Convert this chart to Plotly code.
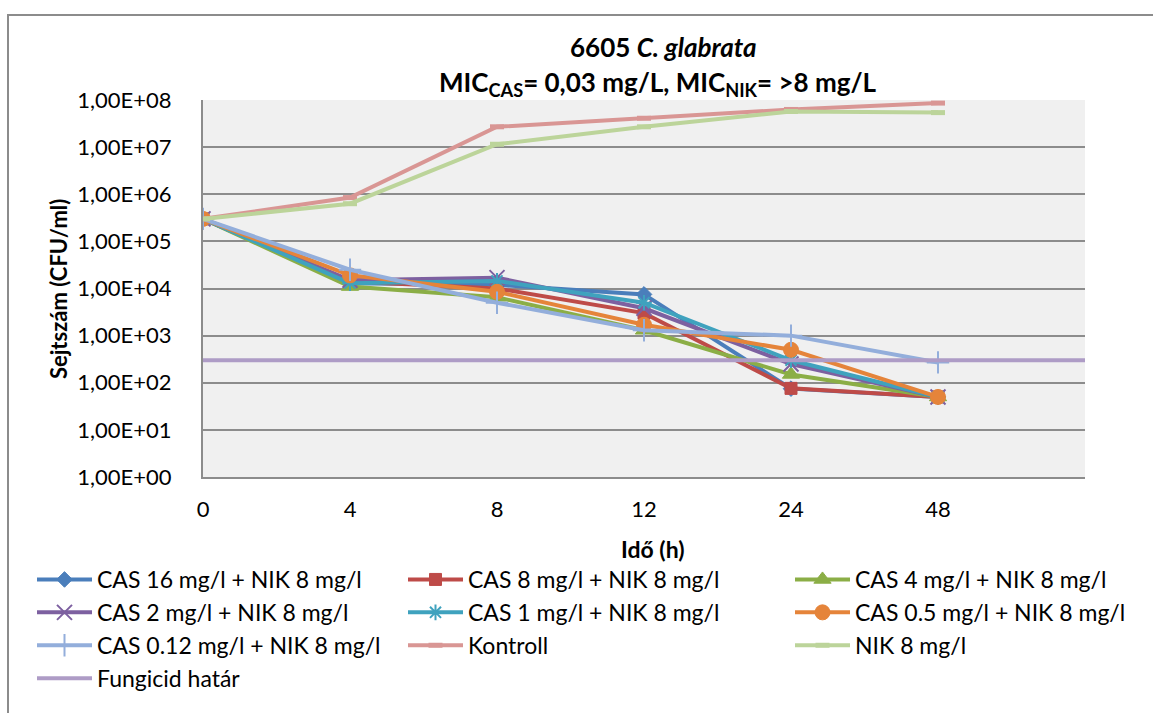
import plotly.graph_objects as go

# ---- data ----
time_labels = ["0", "4", "8", "12", "24", "48", " "]
cas16 = [3.0e5, 1.3e4, 1.2e4, 7.5e3, 75, 50]
cas8 = [3.0e5, 1.4e4, 1.0e4, 3.0e3, 76, 50]
cas4 = [3.0e5, 1.1e4, 6.5e3, 1.3e3, 150, 50]
cas2 = [3.0e5, 1.5e4, 1.7e4, 3.8e3, 250, 50]
cas1 = [3.0e5, 1.3e4, 1.45e4, 5.0e3, 300, 50]
cas05 = [3.0e5, 1.9e4, 8.5e3, 1.7e3, 500, 50]
cas012 = [3.0e5, 2.5e4, 5.0e3, 1.3e3, 1.0e3, 270]
kontroll = [3.0e5, 8.5e5, 2.7e7, 4.1e7, 6.3e7, 8.6e7]
nik8 = [3.0e5, 6.3e5, 1.15e7, 2.7e7, 5.7e7, 5.4e7]
fungicid = [300, 300, 300, 300, 300, 300, 300]

names = [
    "CAS 16 mg/l + NIK 8 mg/l",
    "CAS 8 mg/l + NIK 8 mg/l",
    "CAS 4 mg/l + NIK 8 mg/l",
    "CAS 2 mg/l + NIK 8 mg/l",
    "CAS 1 mg/l + NIK 8 mg/l",
    "CAS 0.5 mg/l + NIK 8 mg/l",
    "CAS 0.12 mg/l + NIK 8 mg/l",
    "Kontroll",
    "NIK 8 mg/l",
    "Fungicid határ",
]
series = [cas16, cas8, cas4, cas2, cas1, cas05, cas012, kontroll, nik8, fungicid]
y_tickvals = [1, 10, 100, 1e3, 1e4, 1e5, 1e6, 1e7, 1e8]
y_ticktext = ["1,00E+00", "1,00E+01", "1,00E+02", "1,00E+03", "1,00E+04",
              "1,00E+05", "1,00E+06", "1,00E+07", "1,00E+08"]

# ---- styles ----
colors = ["#4A7EBB", "#BE4B48", "#8BAE46", "#7D60A0", "#3FA2BE",
          "#E5843A", "#93AEDB", "#D99694", "#BCD49A", "#AE9CC6"]
symbols = ["diamond", "square", "triangle-up", "x-thin-open", "asterisk-open",
           "circle", "cross-thin-open", "line-ew-open", "line-ew-open", None]
sizes = [12, 12, 15, 15, 13, 15, 16, 10, 10, 0]
legend_of = ["legend", "legend2", "legend3", "legend", "legend2", "legend3",
             "legend", "legend2", "legend3", "legend"]

FONT = "Lato"
W, H = 1153, 713
L, R, T, B = 203, 1085, 100, 477
pw, ph = R - L, B - T


def px(xp):
    return (xp - L) / pw


def py(yp):
    return (B - yp) / ph


fig = go.Figure()
for i, (nm, vals) in enumerate(zip(names, series)):
    xs = time_labels[:len(vals)]
    if symbols[i] is None:
        mode = "lines"
        marker = None
    else:
        mode = "lines+markers"
        sym = symbols[i]
        if sym.startswith("line"):
            lw = 5
        elif sym.endswith("open"):
            lw = 2
        else:
            lw = 1
        marker = dict(symbol=sym, size=sizes[i], color=colors[i],
                      line=dict(color=colors[i], width=lw))
    fig.add_trace(go.Scatter(
        x=xs, y=vals, name=nm, mode=mode,
        line=dict(color=colors[i], width=4),
        marker=marker, legend=legend_of[i],
    ))

axis_font = dict(family=FONT, size=22, color="#000000")
leg_font = dict(family=FONT, size=23, color="#000000")


def legend_at(xpix):
    return dict(x=px(xpix), y=py(558), xanchor="left", yanchor="top",
                orientation="v", font=leg_font, itemwidth=55,
                tracegroupgap=0, bgcolor="rgba(0,0,0,0)")


def ann(text, xp, yp, size, angle=0):
    return dict(text=text, x=px(xp), y=py(yp), xref="paper", yref="paper",
                xanchor="center", yanchor="middle", showarrow=False,
                textangle=angle, font=dict(family=FONT, size=size, color="#000000"))


fig.update_layout(
    width=W, height=H,
    margin=dict(l=L, r=W - R, t=T, b=H - B, pad=0),
    paper_bgcolor="white",
    plot_bgcolor="#F0F0F0",
    font=dict(family=FONT, size=22, color="#000000"),
    showlegend=True,
    xaxis=dict(
        type="category", categoryorder="array", categoryarray=time_labels,
        range=[0, 6], showgrid=False, zeroline=False,
        showline=True, linecolor="#8C8C8C", linewidth=2,
        ticks="", tickfont=axis_font, ticklabelstandoff=12,
    ),
    yaxis=dict(
        type="log", range=[0, 8], tickvals=y_tickvals, ticktext=y_ticktext,
        showgrid=True, gridcolor="#8C8C8C", gridwidth=2,
        zeroline=False, showline=True, linecolor="#8C8C8C", linewidth=2,
        ticks="", tickfont=axis_font, ticklabelstandoff=25,
    ),
    legend=legend_at(32),
    legend2=legend_at(403),
    legend3=legend_at(790),
    annotations=[
        ann("<b>6605 <i>C. glabrata</i></b>", 663, 47, 26),
        ann("<b>MIC<sub>CAS</sub>= 0,03 mg/L, MIC<sub>NIK</sub>= &gt;8 mg/L</b>", 658, 84, 26),
        ann("<b>Idő (h)</b>", 653, 549, 23),
        ann("<b>Sejtszám (CFU/ml)</b>", 58, 289, 22, -90),
    ],
    shapes=[
        dict(type="rect", xref="paper", yref="paper",
             x0=px(8), x1=px(1170), y0=py(730), y1=py(15),
             line=dict(color="#8C8C8C", width=2), fillcolor="rgba(0,0,0,0)",
             layer="below"),
    ],
)

fig.write_html("out.html")
